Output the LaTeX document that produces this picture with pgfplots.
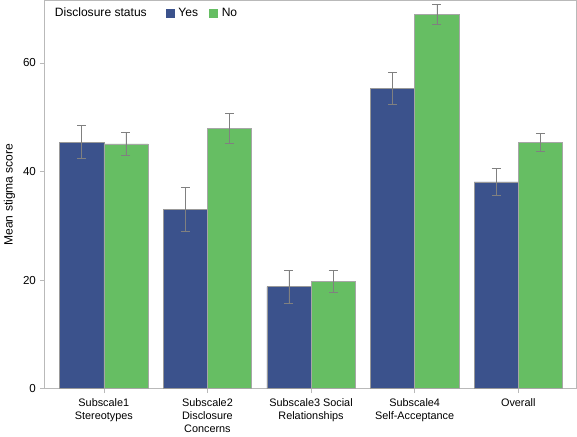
\documentclass[border=0pt]{standalone}
\usepackage{pgfplots}
\pgfplotsset{compat=1.18}
\usepackage{fontspec}
\setmainfont{Liberation Sans}
\definecolor{cyes}{RGB}{59,82,140}
\definecolor{cno}{RGB}{102,190,99}
\definecolor{frame}{RGB}{185,185,185}
\begin{document}
\fontsize{11.5bp}{13.5bp}\selectfont
\begin{tikzpicture}
\begin{axis}[
  scale only axis,
  width=529bp, height=386bp,
  ymin=0, ymax=71.5,
  xmin=-0.573, xmax=4.563,
  ybar=0pt, bar width=0.427,
  xtick={0,1,2,3,4},
  xticklabels={{Subscale1\\Stereotypes},{Subscale2\\Disclosure\\Concerns},{Subscale3 Social\\Relationships},{Subscale4\\Self-Acceptance},Overall},
  xticklabel style={align=center, font=\fontsize{10.8bp}{13.3bp}\selectfont, yshift=-1bp},
  ytick={0,20,40,60},
  yticklabel style={font=\fontsize{11.5bp}{13bp}\selectfont},
  xtick pos=bottom, ytick pos=left,
  /pgf/number format/assume math mode=true,
  tick align=outside, major tick length=4.5bp,
  tick style={frame, line width=0.6bp},
  axis line style={frame, line width=0.8bp},
  ylabel={Mean stigma score},
  ylabel style={font=\fontsize{12bp}{14bp}\selectfont, yshift=0bp},
  legend style={at={(0.006,0.992)}, anchor=north west, draw=none, fill=none,
    font=\fontsize{12bp}{14bp}\selectfont,
    /tikz/every even column/.append style={column sep=9bp},
    /tikz/every odd column/.append style={column sep=2bp}},
  legend columns=-1,
  legend cell align=left,
  error bars/error bar style={gray, line width=0.5bp},
  error bars/error mark options={gray, line width=0.5bp, mark size=4.5bp, rotate=90},
]
\addlegendimage{empty legend}
\addlegendentry{Disclosure status\kern8bp}
\addplot[fill=cyes, draw=gray!80, line width=0.5bp,
  area legend,
  legend image code/.code={\fill[cyes] (0bp,-4bp) rectangle (8bp,4bp);},
  error bars/.cd, y dir=both, y explicit]
  table[x=x, y=y, y error=e] {
x y e
0 45.4 3.05
1 33.0 4.1
2 18.8 3.05
3 55.3 2.95
4 38.1 2.4
};
\addlegendentry{Yes}
\addplot[fill=cno, draw=gray!70, line width=0.5bp,
  area legend,
  legend image code/.code={\fill[cno] (0bp,-4bp) rectangle (8bp,4bp);},
  error bars/.cd, y dir=both, y explicit]
  table[x=x, y=y, y error=e] {
x y e
0 45.1 2.1
1 47.9 2.75
2 19.8 2.0
3 68.9 1.85
4 45.4 1.65
};
\addlegendentry{No}
\end{axis}
\end{tikzpicture}
\end{document}
